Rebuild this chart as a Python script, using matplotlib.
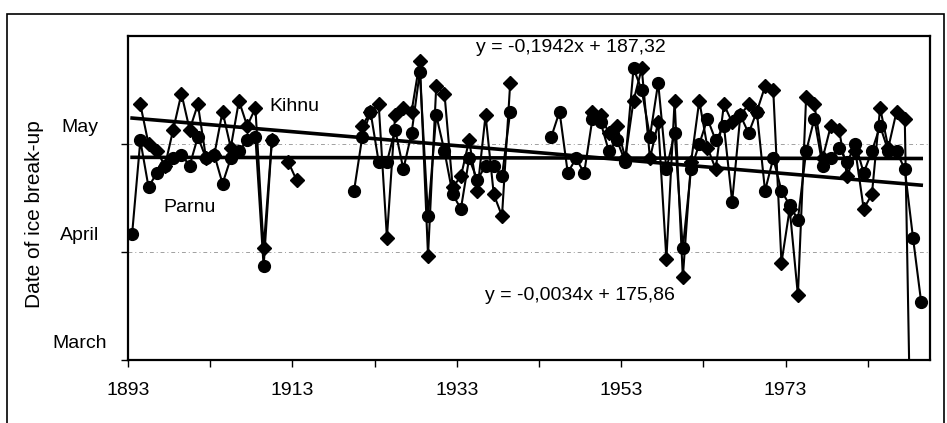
# Ice break-up dates at Kihnu and Parnu, 1893-1989
# values are day of year (March 1 = 60)

import matplotlib.pyplot as plt
import matplotlib.transforms as mtransforms
from matplotlib.patches import Rectangle
import numpy as np

nan = np.nan

years = list(range(1893, 1990))

# Kihnu (diamonds); the 1988 value is a zero, which drops off the chart
kihnu = [nan, 131, 120, 118, 114, 124, 134, 124, 131, 116,
         117, 129, 119, 132, 125, 130, 91, 121, nan, 115,
         110, nan, nan, nan, nan, nan, nan, nan, 125, 129,
         131, 94, 128, 130, 129, 143, 89, 136, 134, 108,
         111, 121, 107, 128, 106, 100, 137, nan, nan, nan,
         nan, nan, nan, nan, nan, nan, 129, 128, 123, 125,
         116, 132, 141, 116, 126, 88, 132, 83, 115, 132,
         119, 113, 131, 126, 128, 131, 129, 136, 135, 87,
         102, 78, 133, 131, 116, 125, 124, 111, 118, 102,
         106, 130, 119, 129, 127, 0, nan]

# Parnu (circles)
parnu = [95, 121, 108, 112, 114, 116, 117, 114, 122, 116,
         117, 109, 116, 118, 121, 122, 86, 121, nan, nan,
         nan, nan, nan, nan, nan, nan, nan, 107, 122, 129,
         115, 115, 124, 113, 123, 140, 100, 128, 118, 106,
         102, 116, 110, 114, 114, 111, 129, nan, nan, nan,
         nan, 122, 129, 112, 116, 112, 127, 126, 118, 121,
         115, 141, 135, 122, 137, 113, 123, 91, 113, 120,
         127, 121, 125, 104, 128, 123, 129, 107, 116, 107,
         103, 99, 118, 127, 114, 116, 119, 115, 120, 112,
         118, 125, 118, 118, 113, 94, 76]

# linear trends (slope per year index, value at index 0), index 1 = 1893
kihnu_slope, kihnu_icept = -0.1942, 127.4
parnu_slope, parnu_icept = -0.0034, 116.3

month_ticks = [60, 90, 120]
month_labels = ['March', 'April', 'May']
year_ticks = np.arange(1892.5, 1990, 10)
year_labels = ['1893', '', '1913', '', '1933', '', '1953', '', '1973', '']

plt.rcParams['font.family'] = ['Liberation Sans', 'DejaVu Sans']

fig = plt.figure(figsize=(9.47, 4.23), dpi=100)
ax = fig.add_axes([128 / 947, 1 - 360 / 423, 802 / 947, 324 / 423])

# faint gridlines at the month ticks
for m in month_ticks[1:]:
	ax.axhline(m, color='#a0a0a0', lw=0.7, ls=(0, (4, 3, 1, 3)), zorder=1)

ax.plot(years, kihnu, color='black', lw=1.5, marker='D', ms=7, zorder=3)
ax.plot(years, parnu, color='black', lw=1.5, marker='o', ms=8.5, zorder=3)

idx = np.array(years) - 1892
ax.plot(years, kihnu_icept + kihnu_slope * idx, color='black', lw=2.6, zorder=4)
ax.plot(years, parnu_icept + parnu_slope * idx, color='black', lw=2.6, zorder=4)

ax.set_xlim(1892.5, 1990.07)
ax.set_ylim(60, 150)

ax.set_xticks(year_ticks)
ax.set_xticklabels(year_labels)
ax.set_yticks(month_ticks)
ax.set_yticklabels([])
ax.tick_params(axis='x', direction='out', length=5, width=1, labelsize=14, pad=11)
ax.tick_params(axis='y', direction='out', length=5, width=1)
for s in ax.spines.values():
	s.set_linewidth(1.6)

# month names sit a little above their ticks
trans = mtransforms.blended_transform_factory(ax.transAxes, ax.transData)
for m, lab in zip(month_ticks, month_labels):
	ax.text(-0.06, m + 4.7, lab, transform=trans, ha='center', va='center', fontsize=14)

ax.text(1912.7, 130.3, 'Kihnu', ha='center', va='center', fontsize=14)
ax.text(1900.0, 102.5, 'Parnu', ha='center', va='center', fontsize=14)
ax.text(1934.8, 146.7, 'y = -0,1942x + 187,32', ha='left', va='center', fontsize=14)
ax.text(1935.9, 78.0, 'y = -0,0034x + 175,86', ha='left', va='center', fontsize=14)

fig.text(35 / 947, 1 - 214 / 423, 'Date of ice break-up', rotation=90,
	ha='center', va='center', fontsize=15)

# outer frame of the scanned figure
fig.patches.append(Rectangle((7 / 947, -0.1), (944 - 7) / 947, 1 - 14 / 423 + 0.1,
	transform=fig.transFigure, fill=False, lw=1.2, color='black'))

plt.savefig('out.png', dpi=100)
plt.close()
